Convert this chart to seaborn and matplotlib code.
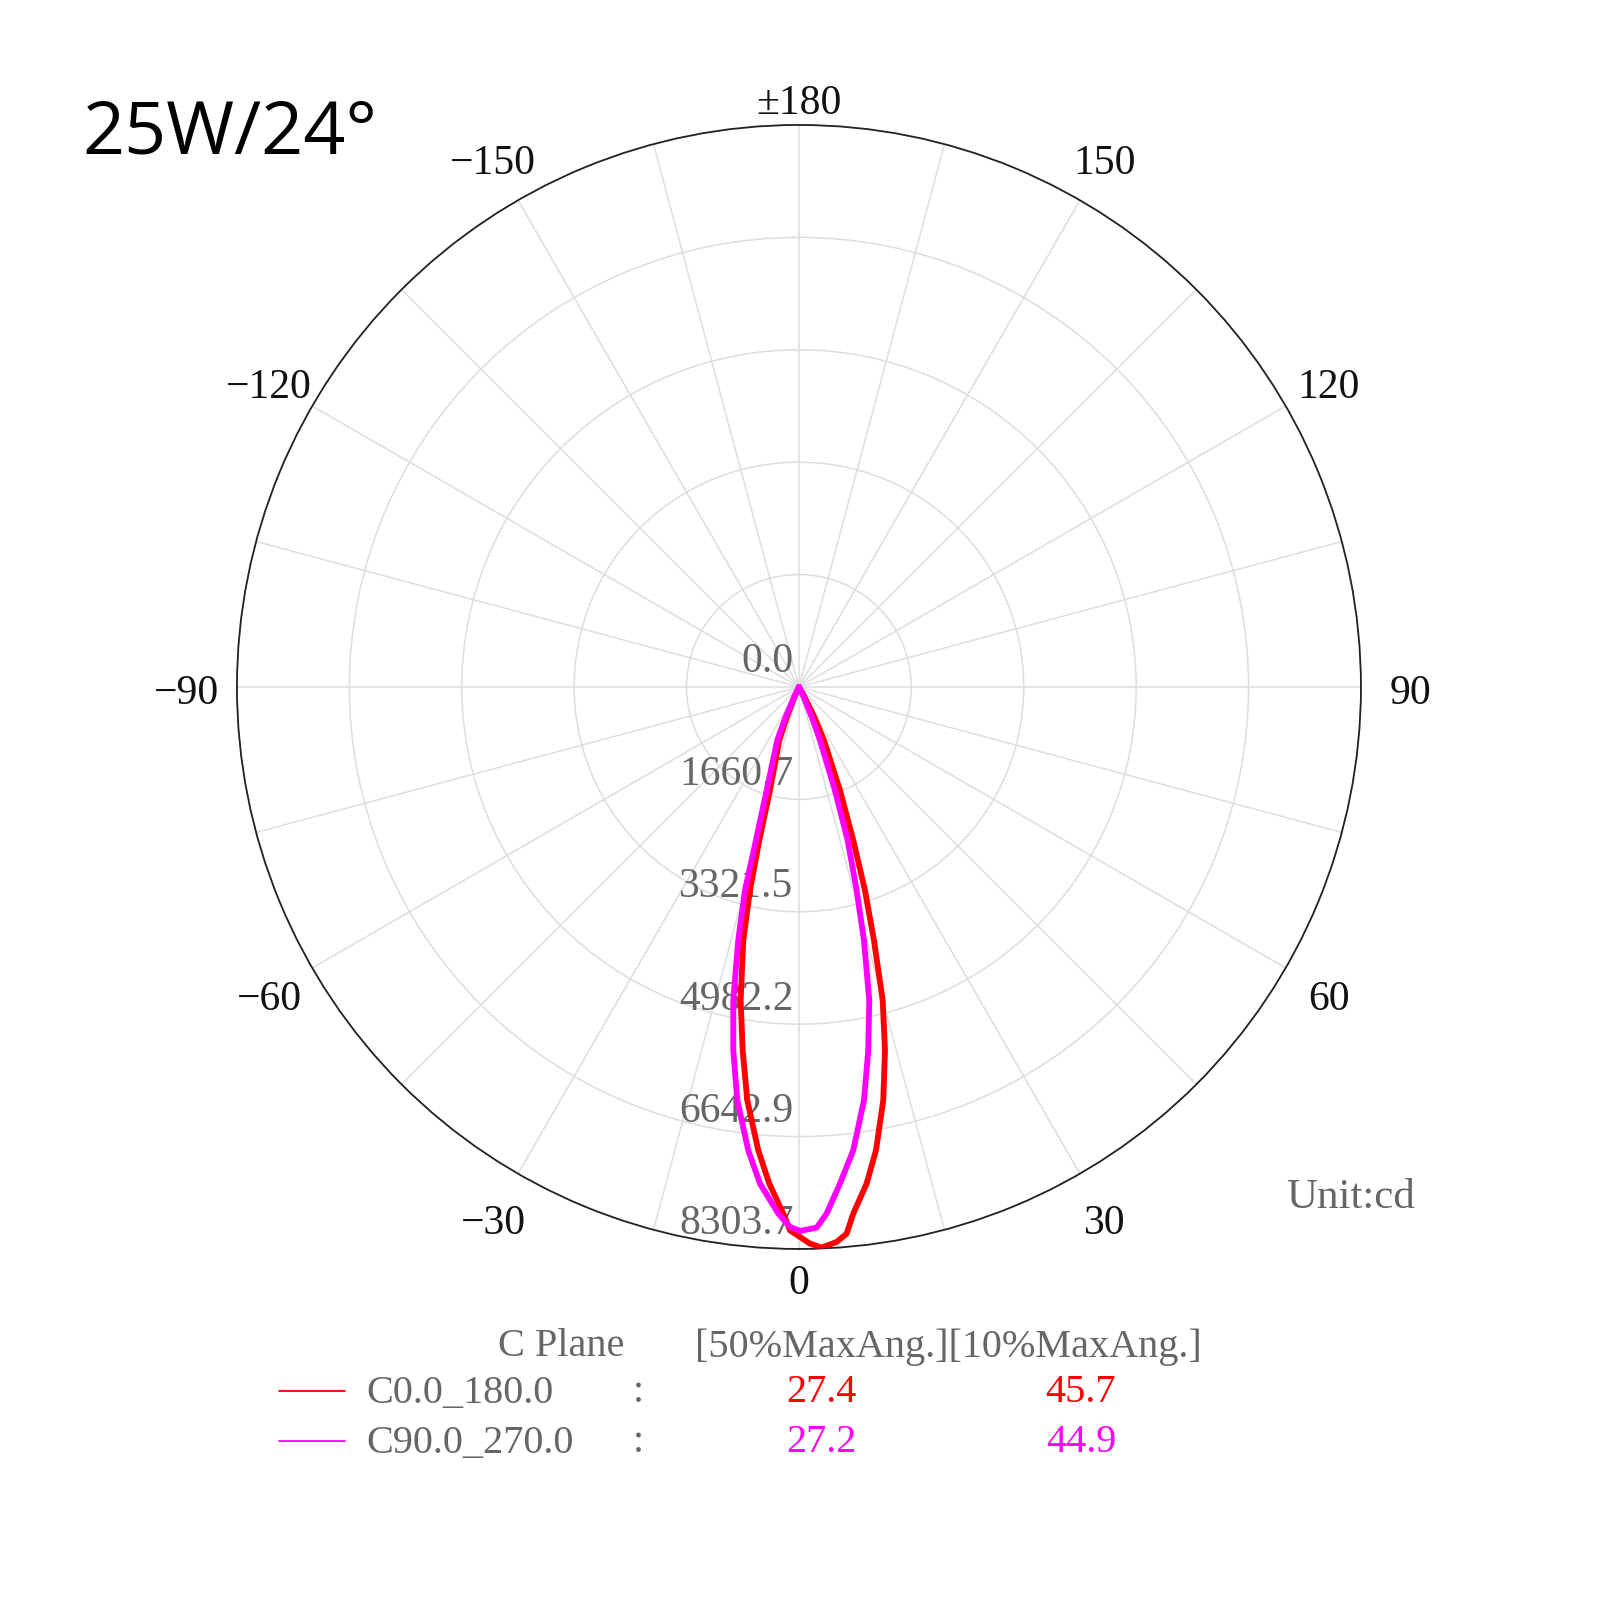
import numpy as np
import pandas as pd
import seaborn as sns
import matplotlib.pyplot as plt
from matplotlib.lines import Line2D

# C0.0_180.0 plane: gamma angle (deg) and intensity (cd)
c0_deg = [-180, -30, -24, -21.8, -20.3, -15.7, -14.5, -13.55, -12.4, -10.54,
          -8.81, -7.13, -5.02, -3.42, -1.71, -0.95, 1.13, 2.32, 3.89, 4.99,
          5.89, 7.76, 9.44, 11.53, 13.32, 14.96, 16.49, 17.98, 19.5, 21.65,
          25.1, 27, 29.5, 35, 180]
c0_cd = [0, 0, 150, 500, 839, 1585, 2340, 3090, 3832, 4709,
         5432, 6154, 6872, 7351, 7784, 8029, 8226, 8290, 8219, 8107,
         7822, 7405, 6940, 6232, 5516, 4792, 3904, 3158, 2403, 1642,
         870, 500, 150, 0, 0]

# C90.0_270.0 plane
c90_deg = [-180, -32, -26, -24, -22.15, -17.36, -15.67, -14.87, -13.48, -11.84,
           -10.25, -8.49, -6.25, -4.49, -2.25, -1.0, 0.1, 1.88, 3.01, 4.72,
           6.68, 8.94, 10.8, 12.65, 14.39, 15.84, 17.62, 19.21, 21.5, 23,
           25, 30, 180]
c90_cd = [0, 0, 150, 500, 850, 1599, 2352, 3108, 3849, 4730,
          5455, 6174, 6887, 7360, 7787, 7975, 8038, 7992, 7791, 7362,
          6893, 6182, 5465, 4744, 3864, 3122, 2376, 1616, 847, 500,
          150, 0, 0]

ring_labels = ['0.0', '1660.7', '3321.5', '4982.2', '6642.9', '8303.7']
ring_values = [0.0, 1660.7, 3321.5, 4982.2, 6642.9, 8303.7]

angle_ticks = [0, 30, 60, 90, 120, 150, 180, 210, 240, 270, 300, 330]
angle_labels = ['0', '30', '60', '90', '120', '150', '\u00b1180',
                '\u2212150', '\u2212120', '\u221290', '\u221260', '\u221230']

planes = ['C0.0_180.0', 'C90.0_270.0']
half_angles = ['27.4', '27.2']
tenth_angles = ['45.7', '44.9']
plane_colors = ['#ff0000', '#ff00ff']

df = pd.concat([
    pd.DataFrame({'theta': np.radians(c0_deg), 'cd': c0_cd, 'plane': planes[0]}),
    pd.DataFrame({'theta': np.radians(c90_deg), 'cd': c90_cd, 'plane': planes[1]}),
], ignore_index=True)

sns.set_theme(style='white')
serif = ['Liberation Serif', 'DejaVu Serif']
grey = '#666666'

fig = plt.figure(figsize=(16, 16), dpi=100)
ax = fig.add_axes([0.1481, 0.2194, 0.7025, 0.7025], projection='polar')

sns.lineplot(data=df, x='theta', y='cd', hue='plane', palette=dict(zip(planes, plane_colors)),
             sort=False, estimator=None, linewidth=4.2, legend=False, ax=ax, zorder=3)
for ln in ax.lines:
    ln.set_solid_joinstyle('round')

ax.set_theta_zero_location('S')
ax.set_theta_direction(1)
ax.set_ylim(0, ring_values[-1])
ax.set_yticks(ring_values[1:])
ax.set_yticklabels([])
ax.set_thetagrids(np.arange(0, 360, 15), labels=[''] * 24)
ax.grid(True, color='#dddddd', linewidth=1.1)
ax.spines['polar'].set_color('#222222')
ax.spines['polar'].set_linewidth(1.3)
ax.set_xlabel('')
ax.set_ylabel('')

# radial value labels along the 0 direction
for lab, val in zip(ring_labels, ring_values):
    ax.annotate(lab, xy=(0, val), xytext=(-4, 4), textcoords='offset points',
                ha='right', va='bottom', fontsize=30, color=grey, family=serif, zorder=1)

# angle labels round the outside
for a, lab in zip(angle_ticks, angle_labels):
    rad = np.radians(a)
    d = 590 + 22 * min(1.0, 2 * abs(np.sin(rad)))
    x = 0.5 + d / 1124 * np.sin(rad)
    y = 0.5 - d / 1124 * np.cos(rad) - 7 / 1124
    ax.text(x, y, lab, transform=ax.transAxes, ha='center', va='center',
            fontsize=30, color='#111111', family=serif)

fig.text(82 / 1600, 1 - 153 / 1600, '25W/24\u00b0', fontsize=53, family=['Open Sans', 'DejaVu Sans'],
         color='black', va='baseline', ha='left')

fig.text(1286 / 1600, 1 - 1198 / 1600, 'Unit:cd', fontsize=31, color=grey, family=serif,
         ha='left', va='center')

# table under the chart
fig.text(498 / 1600, 1 - 1347 / 1600, 'C Plane', fontsize=29, color=grey, family=serif,
         ha='left', va='center')
fig.text(695 / 1600, 1 - 1347 / 1600, '[50%MaxAng.][10%MaxAng.]', fontsize=29, color=grey,
         family=serif, ha='left', va='center')
row_y = [1393, 1443]
for i, name in enumerate(planes):
    yy = 1 - row_y[i] / 1600
    fig.add_artist(Line2D([279 / 1600, 345 / 1600], [yy + 0.001, yy + 0.001],
                          color=plane_colors[i], linewidth=1.3, transform=fig.transFigure))
    fig.text(366 / 1600, yy, name, fontsize=29, color=grey, family=serif, ha='left', va='center')
    fig.text(638 / 1600, yy, ':', fontsize=29, color=grey, family=serif, ha='center', va='center')
    fig.text(821 / 1600, yy, half_angles[i], fontsize=29, color=plane_colors[i], family=serif,
             ha='center', va='center')
    fig.text(1081 / 1600, yy, tenth_angles[i], fontsize=29, color=plane_colors[i], family=serif,
             ha='center', va='center')

fig.savefig('out.png', dpi=100, facecolor='white')
